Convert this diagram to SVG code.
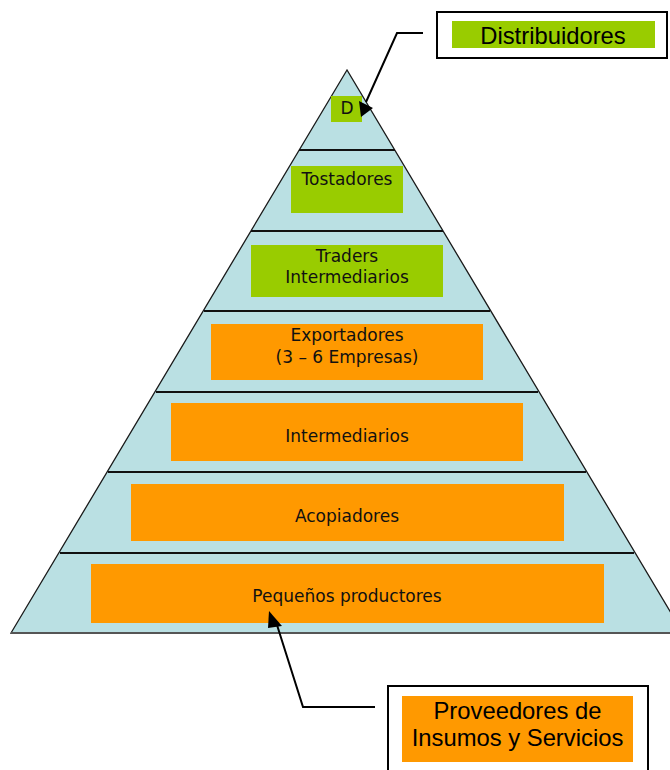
<svg xmlns="http://www.w3.org/2000/svg" width="670" height="770" viewBox="0 0 670 770">
<style>
.lvl{font-family:"DejaVu Sans",Verdana,sans-serif;font-size:17px;fill:#111;text-anchor:middle}
.call{font-family:"Liberation Sans",Arial,sans-serif;font-size:23.8px;fill:#000;text-anchor:middle}
.g{fill:#99CC00}
.o{fill:#FF9900}
.div{stroke:#111;stroke-width:2.2}
.conn{fill:none;stroke:#000;stroke-width:2}
</style>
<rect width="670" height="770" fill="#fff"/>
<g id="pyramid">
<polygon points="347,70 11,633 683,633" fill="#BAE0E3" stroke="#1a1a1a" stroke-width="1.3"/>
<line x1="11" y1="633" x2="670" y2="633" stroke="#555" stroke-width="2"/>
<line class="div" x1="299" y1="150" x2="395" y2="150"/>
<line class="div" x1="251" y1="231" x2="443" y2="231"/>
<line class="div" x1="204" y1="311" x2="490" y2="311"/>
<line class="div" x1="156" y1="392" x2="538" y2="392"/>
<line class="div" x1="108" y1="472" x2="586" y2="472"/>
<line class="div" x1="60" y1="553" x2="634" y2="553"/>
</g>
<g id="n-d"><rect class="g" x="331" y="96" width="31" height="26"/><text class="lvl" x="347" y="114">D</text></g>
<g id="n-tostadores"><rect class="g" x="291" y="166" width="112" height="47"/><text class="lvl" x="347" y="185">Tostadores</text></g>
<g id="n-traders"><rect class="g" x="251" y="245" width="192" height="52"/><text class="lvl" x="347" y="262">Traders</text><text class="lvl" x="347" y="283">Intermediarios</text></g>
<g id="n-exportadores"><rect class="o" x="211" y="324" width="272" height="56"/><text class="lvl" x="347" y="341">Exportadores</text><text class="lvl" x="347" y="363">(3 – 6 Empresas)</text></g>
<g id="n-intermediarios"><rect class="o" x="171" y="403" width="352" height="58"/><text class="lvl" x="347" y="442">Intermediarios</text></g>
<g id="n-acopiadores"><rect class="o" x="131" y="484" width="433" height="57"/><text class="lvl" x="347" y="522">Acopiadores</text></g>
<g id="n-pequenos"><rect class="o" x="91" y="564" width="513" height="59"/><text class="lvl" x="347" y="602">Pequeños productores</text></g>
<g id="n-distribuidores"><rect x="437" y="12" width="230" height="46" fill="#fff" stroke="#000" stroke-width="2"/><rect class="g" x="452" y="21" width="203" height="27"/><text class="call" x="553" y="44">Distribuidores</text></g>
<g id="n-proveedores"><rect x="388" y="686" width="260" height="100" fill="#fff" stroke="#000" stroke-width="2"/><rect class="o" x="402" y="696" width="231" height="66"/><text class="call" x="517.5" y="719">Proveedores de</text><text class="call" x="517.5" y="746">Insumos y Servicios</text></g>
<g id="connectors">
<polyline class="conn" points="423,33 397,33 366,102"/>
<polygon points="359,101 373,108 361,117" fill="#000"/>
<polyline class="conn" points="375,707 303,707 277,625"/>
<polygon points="269,611 268,628 282,626" fill="#000"/>
</g>
</svg>
